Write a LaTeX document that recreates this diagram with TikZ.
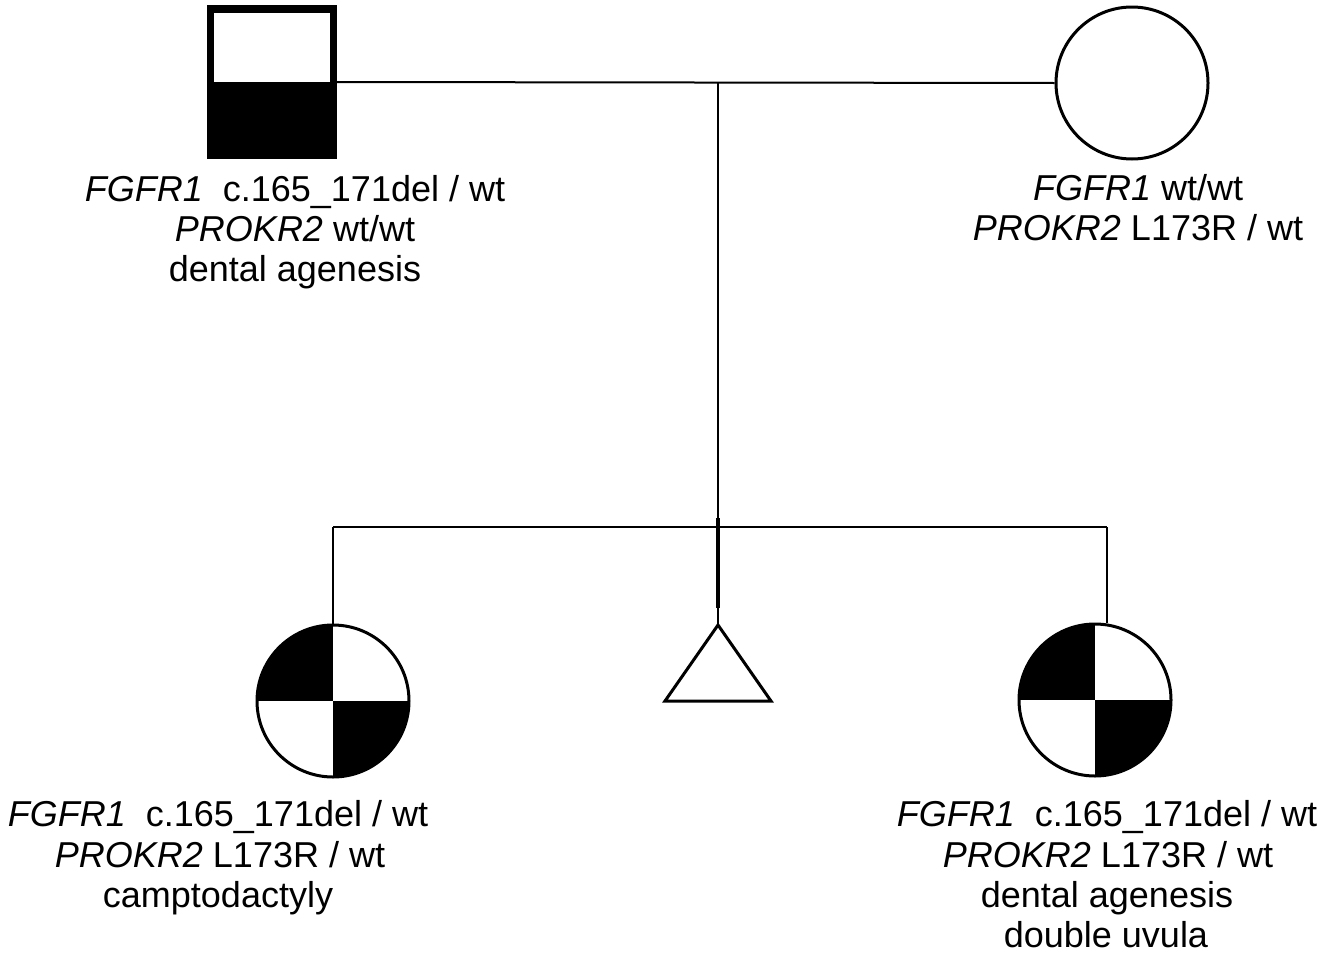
\documentclass[tikz,border=0pt]{standalone}
\usepackage{fontspec}
\setmainfont{Liberation Sans}
\begin{document}
\begin{tikzpicture}[x=1pt,y=-1pt,
  line/.style={line width=2pt},
  thickline/.style={line width=4pt},
  txt/.style={font=\fontsize{36}{41}\selectfont, anchor=base, inner sep=0pt},
  person/.style={circle, minimum size=152pt, inner sep=0pt, draw, line width=3pt, fill=white},
  quarters/.style={path picture={
      \fill[black] (path picture bounding box.north west) rectangle (path picture bounding box.center);
      \fill[black] (path picture bounding box.center) rectangle (path picture bounding box.south east);}},
  halfmale/.style={rectangle, fill=black, minimum width=130pt, minimum height=154pt, inner sep=0pt,
    path picture={
      \fill[white] ([xshift=7pt,yshift=-8pt]path picture bounding box.north west) rectangle ([xshift=-7pt]path picture bounding box.east);}}
]
\useasboundingbox (0,0) rectangle (1336,964);

% parents
\node[halfmale] (father) at (272,82) {};
\node[person] (mother) at (1132,83) {};
\coordinate (mid) at (718,83);
\draw[line] (father.east) -- (mother.west);

% children
\node[person, quarters] (c1) at (333,701) {};
\node[person, quarters] (c2) at (1095,700) {};
\coordinate (tri) at (718,625);
\coordinate (sl) at (333,527);
\coordinate (sr) at (1107,527);
\coordinate (tk1) at (718,518);
\coordinate (tk2) at (718,608);

\draw[line] (mid) -- (tri);
\draw[thickline] (tk1) -- (tk2);
\draw[line] (sl) -- (sr);
\draw[line] (sl) -- (c1.north);
\draw[line] (sr) -- (sr |- c2.north);
\draw[line width=3pt, line join=miter] (tri) -- ++(-53,76) -- ++(106,0) -- cycle;

% labels
\node[txt] (f1) at (295,201) {\textit{FGFR1}\ \ c.165\_171del / wt};
\node[txt] (f2) at (295,241) {\textit{PROKR2} wt/wt};
\node[txt] (f3) at (295,281) {dental agenesis};

\node[txt] (m1) at (1138,200) {\textit{FGFR1} wt/wt};
\node[txt] (m2) at (1138,240) {\textit{PROKR2} L173R / wt};

\node[txt] (a1) at (218,826) {\textit{FGFR1}\ \ c.165\_171del / wt};
\node[txt] (a2) at (220,867) {\textit{PROKR2} L173R / wt};
\node[txt] (a3) at (218,907) {camptodactyly};

\node[txt] (b1) at (1107,826) {\textit{FGFR1}\ \ c.165\_171del / wt};
\node[txt] (b2) at (1108,867) {\textit{PROKR2} L173R / wt};
\node[txt] (b3) at (1107,907) {dental agenesis};
\node[txt] (b4) at (1106,947) {double uvula};
\end{tikzpicture}
\end{document}
